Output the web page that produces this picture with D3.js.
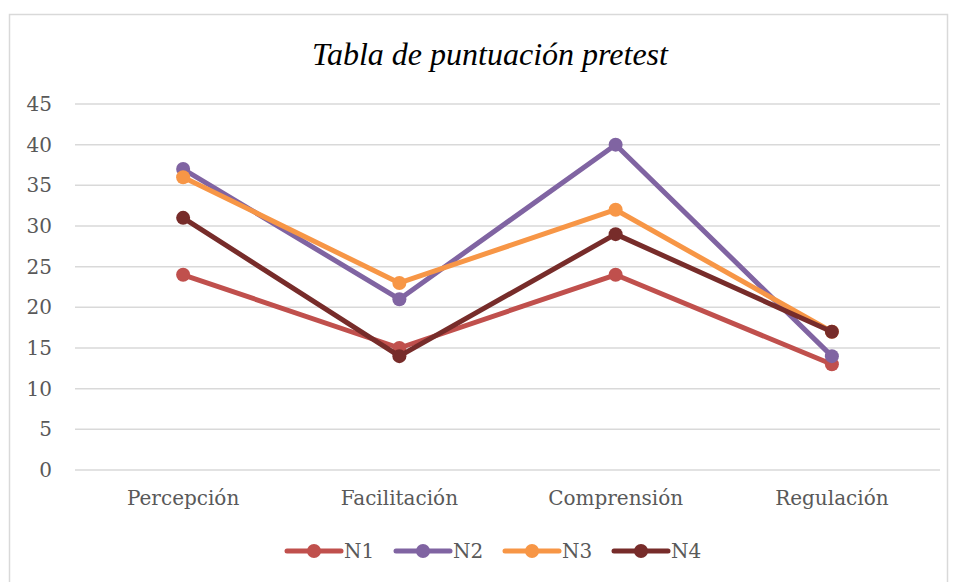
<!DOCTYPE html>
<html>
<head>
<meta charset="utf-8">
<script src="https://cdn.jsdelivr.net/npm/d3@7"></script>
<style>
  body { margin: 0; background: #fff; }
  text { font-family: "DejaVu Serif", serif; fill: #595959; }
</style>
</head>
<body>
<script>
// chart data
var categories = ["Percepción", "Facilitación", "Comprensión", "Regulación"];
var seriesNames = ["N1", "N2", "N3", "N4"];
var n1 = [24, 15, 24, 13];
var n2 = [37, 21, 40, 14];
var n3 = [36, 23, 32, 17];
var n4 = [31, 14, 29, 17];
var yTicks = [0, 5, 10, 15, 20, 25, 30, 35, 40, 45];
var colors = ["#C0504D", "#8064A2", "#F79646", "#772C2A"];

var series = [n1, n2, n3, n4].map(function(v, i) {
  return { name: seriesNames[i], values: v, color: colors[i] };
});

var W = 956, H = 582;
var margin = {top: 104, right: 16, bottom: 112, left: 75},
    width = W - margin.left - margin.right,
    height = H - margin.top - margin.bottom;

var svg = d3.select("body").append("svg")
    .attr("width", W)
    .attr("height", H);

// outer border
svg.append("rect")
    .attr("x", 9.5).attr("y", 14.5)
    .attr("width", 938).attr("height", 580)
    .attr("fill", "none")
    .attr("stroke", "#d9d9d9")
    .attr("stroke-width", 1.5);

// title
svg.append("text")
    .attr("x", 490).attr("y", 65)
    .attr("text-anchor", "middle")
    .style("font-family", "'Liberation Serif', serif")
    .style("font-style", "italic")
    .style("font-size", "32px")
    .style("fill", "#000")
    .text("Tabla de puntuación pretest");

var g = svg.append("g")
    .attr("transform", "translate(" + margin.left + "," + margin.top + ")");

var x = d3.scaleBand().domain(categories).range([0, width]);
var y = d3.scaleLinear().domain([0, 45]).range([height, 0]);

// gridlines
g.append("g")
  .selectAll("line")
  .data(yTicks)
  .enter().append("line")
    .attr("x1", 0).attr("x2", width)
    .attr("y1", function(d) { return y(d); })
    .attr("y2", function(d) { return y(d); })
    .attr("stroke", "#d9d9d9")
    .attr("stroke-width", 1.5);

// y axis labels
var yAxis = d3.axisLeft(y).tickValues(yTicks).tickSize(0).tickPadding(23);
g.append("g")
    .call(yAxis)
    .call(function(s) { s.select(".domain").remove(); })
    .selectAll("text")
    .style("font-size", "20px")
    .style("fill", "#595959")
    .style("font-family", "'DejaVu Serif', serif");

// x axis labels
var xAxis = d3.axisBottom(x).tickSize(0).tickPadding(21);
g.append("g")
    .attr("transform", "translate(0," + height + ")")
    .call(xAxis)
    .call(function(s) { s.select(".domain").remove(); })
    .selectAll("text")
    .style("font-size", "20px")
    .style("fill", "#595959")
    .style("font-family", "'DejaVu Serif', serif");

var cx = function(d, i) { return x(categories[i]) + x.bandwidth() / 2; };

var line = d3.line()
    .x(function(d, i) { return x(categories[i]) + x.bandwidth() / 2; })
    .y(function(d) { return y(d); });

series.forEach(function(s) {
  var sg = g.append("g").attr("class", "series");
  sg.append("path")
      .datum(s.values)
      .attr("d", line)
      .attr("fill", "none")
      .attr("stroke", s.color)
      .attr("stroke-width", 5)
      .attr("stroke-linejoin", "round");
  sg.selectAll("circle")
      .data(s.values)
      .enter().append("circle")
      .attr("cx", cx)
      .attr("cy", function(d) { return y(d); })
      .attr("r", 7)
      .attr("fill", s.color);
});

// legend
var legend = svg.append("g").attr("transform", "translate(287,551)");
var item = legend.selectAll(".legend")
    .data(series)
  .enter().append("g")
    .attr("class", "legend")
    .attr("transform", function(d, i) { return "translate(" + (i * 109) + ",0)"; });

item.append("line")
    .attr("x1", 0).attr("x2", 54)
    .attr("y1", 0).attr("y2", 0)
    .attr("stroke", function(d) { return d.color; })
    .attr("stroke-width", 5)
    .attr("stroke-linecap", "round");
item.append("circle")
    .attr("cx", 27).attr("cy", 0).attr("r", 7)
    .attr("fill", function(d) { return d.color; });
item.append("text")
    .attr("x", 57).attr("y", 0)
    .attr("dy", "0.35em")
    .style("font-size", "20px")
    .text(function(d) { return d.name; });
</script>
</body>
</html>
